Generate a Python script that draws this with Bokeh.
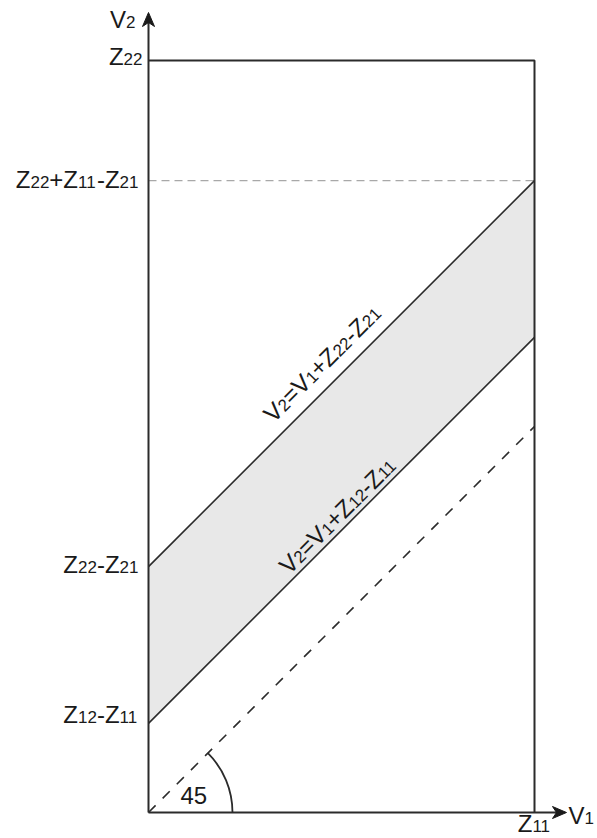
import math
from bokeh.plotting import figure
from bokeh.models import Range1d
from bokeh.core.properties import value
from bokeh.embed import file_html
from bokeh.resources import INLINE

# ---- data (in units of Z11) ----
Z11 = 1.0
Z22 = 1.948
Z22_minus_Z21 = 0.637
Z12_minus_Z11 = 0.231
Z22_plus_Z11_minus_Z21 = Z22_minus_Z21 + Z11
angle_deg = 45

# ---- layout ----
S = 386.0                    # pixels per unit
W, H = 597, 838
ox, oy = 148.0, 812.0        # origin in canvas px
x_axis_end = (566.0 - ox) / S
y_axis_end = (oy - 12.0) / S

FONT = "Liberation Sans"
BIG, SUB = 24, 17
KB = 0.36                    # baseline correction factor
TXT = "#1a1a1a"
LINE = "#2b2b2b"
ADV = {"V": 0.667, "Z": 0.611, "=": 0.584, "+": 0.584, "-": 0.333}
for d in "0123456789":
    ADV[d] = 0.556

p = figure(width=W, height=H, output_backend="svg", toolbar_location=None,
           x_range=Range1d(-ox / S, (W - ox) / S),
           y_range=Range1d((oy - H) / S, oy / S),
           min_border=0)
p.axis.visible = False
p.grid.visible = False
p.outline_line_color = None
p.background_fill_color = "white"
p.border_fill_color = "white"


def pw(s, size):
    return sum(ADV.get(c, 0.556) for c in s) * size


def label(pieces, x, y, align="left", ang=0.0, dx=0.0, dy=0.0):
    """pieces: list of (text, size). dx along text, dy perpendicular (px)."""
    widths = [pw(t, s) for t, s in pieces]
    total = sum(widths)
    start = dx - {"left": 0, "right": total, "center": total / 2}[align]
    ux, uy = math.cos(ang), math.sin(ang)
    nx, ny = -math.sin(ang), math.cos(ang)
    cum = start
    for (t, s), w in zip(pieces, widths):
        d = dy + KB * s
        px = cum * ux + d * nx
        py = cum * uy + d * ny
        p.text(x=[x + px / S], y=[y + py / S], text=[t], angle=ang,
               text_font=value(FONT), text_font_size=f"{s}px",
               text_color=TXT, text_align="left",
               text_baseline="alphabetic")
        cum += w


def zlab(parts):
    return [(t, SUB if t[0].isdigit() else BIG) for t in parts]


def arrow_head(xt, yt, direction, length=14.0, half=6.0, notch=4.0):
    """filled notched arrow head; direction 'x' or 'y'; sizes in px."""
    L, Hh, N = length / S, half / S, notch / S
    if direction == "x":
        xs = [xt, xt - L, xt - L + N, xt - L]
        ys = [yt, yt + Hh, yt, yt - Hh]
    else:
        xs = [xt, xt + Hh, xt, xt - Hh]
        ys = [yt, yt - L, yt - L + N, yt - L]
    p.patch(xs, ys, fill_color="#1a1a1a", line_color="#1a1a1a", line_width=1)


# shaded band
p.patch([0, Z11, Z11, 0],
        [Z12_minus_Z11, Z12_minus_Z11 + Z11, Z22_minus_Z21 + Z11, Z22_minus_Z21],
        fill_color="#e8e8e8", line_color=None)

# dashed horizontal line
p.line([0, Z11], [Z22_plus_Z11_minus_Z21] * 2, line_color="#a8a8a8",
       line_width=1.2, line_dash="8 5")

# rectangle top and right
p.line([0, Z11, Z11], [Z22, Z22, 0], line_color=LINE, line_width=2)

# diagonals
p.line([0, Z11], [Z22_minus_Z21, Z22_minus_Z21 + Z11], line_color=LINE, line_width=1.6)
p.line([0, Z11], [Z12_minus_Z11, Z12_minus_Z11 + Z11], line_color=LINE, line_width=1.6)
p.line([0, Z11], [0, Z11], line_color=LINE, line_width=1.6, line_dash="10 10")

# angle arc
p.arc(x=[0], y=[0], radius=84 / S, start_angle=0,
      end_angle=math.radians(angle_deg), line_color=LINE, line_width=1.8)

# axes with arrows
p.line([0, x_axis_end - 8 / S], [0, 0], line_color=LINE, line_width=2)
p.line([0, 0], [0, y_axis_end - 8 / S], line_color=LINE, line_width=2)
arrow_head(x_axis_end, 0, "x")
arrow_head(0, y_axis_end, "y")

# axis labels
label(zlab(["V", "2"]), 0, y_axis_end, align="right", dx=-13, dy=-16)
label(zlab(["V", "1"]), x_axis_end, 0, align="left", dx=2, dy=-12)
label(zlab(["Z", "11"]), Z11, 0, align="center", dx=0, dy=-20)

# y tick labels
label(zlab(["Z", "22"]), 0, Z22, align="right", dx=-6, dy=-5)
label(zlab(["Z", "22", "+Z", "11", "-Z", "21"]), 0, Z22_plus_Z11_minus_Z21,
      align="right", dx=-10, dy=-7.5)
label(zlab(["Z", "22", "-Z", "21"]), 0, Z22_minus_Z21, align="right", dx=-10, dy=-7)
label(zlab(["Z", "12", "-Z", "11"]), 0, Z12_minus_Z11, align="right", dx=-10, dy=0)

# angle label
label([(str(angle_deg), BIG)], 0, 0, align="left", dx=32, dy=8)

# line equations
a = math.radians(angle_deg)
t1 = 0.488
label(zlab(["V", "2", "=V", "1", "+Z", "22", "-Z", "21"]),
      t1 * Z11, Z22_minus_Z21 + t1 * Z11, align="center", ang=a, dy=12.5)
t2 = 0.515
label(zlab(["V", "2", "=V", "1", "+Z", "12", "-Z", "11"]),
      t2 * Z11, Z12_minus_Z11 + t2 * Z11, align="center", ang=a, dy=5.0)

open("out.html", "w").write(file_html(p, INLINE))
